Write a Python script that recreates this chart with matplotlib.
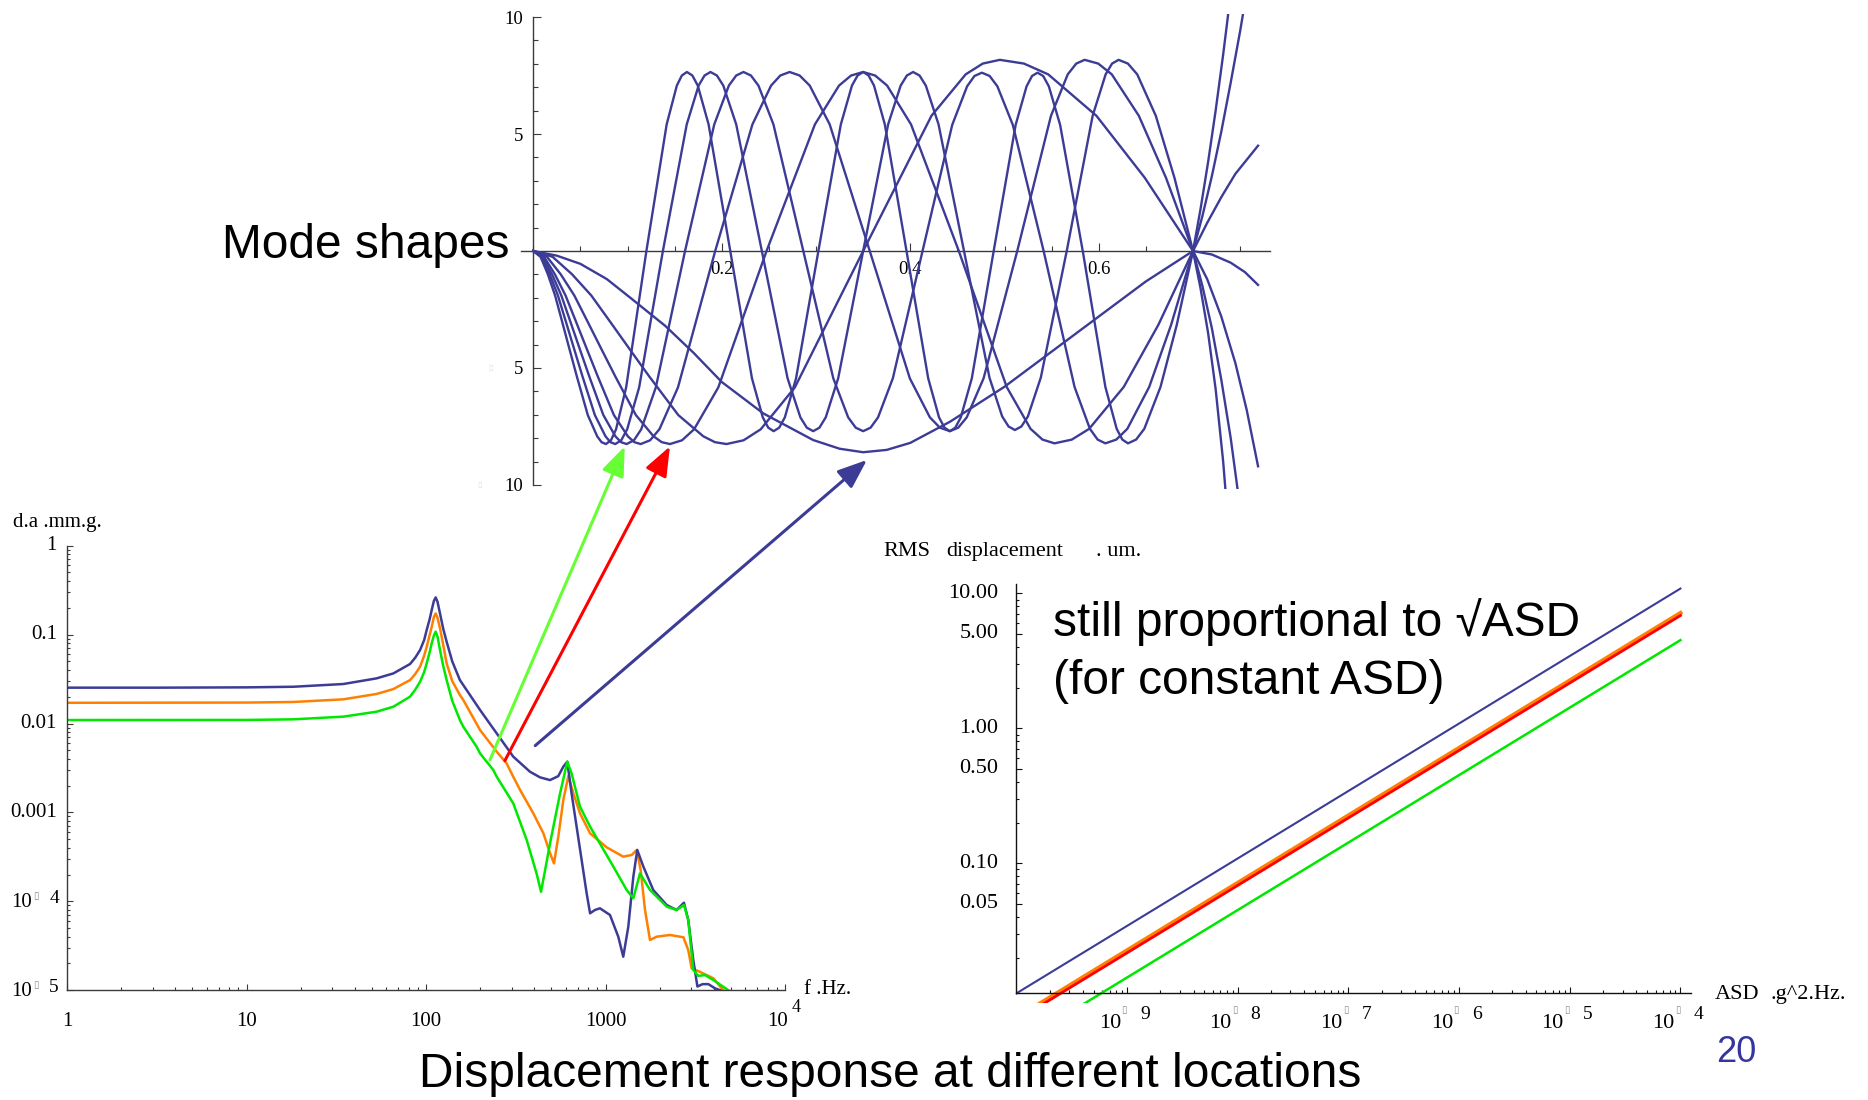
import numpy as np
import matplotlib.pyplot as plt
from matplotlib.patches import ConnectionPatch
from matplotlib.ticker import FixedLocator, NullFormatter, MultipleLocator

plt.rcParams['font.family'] = ['Liberation Serif', 'DejaVu Sans']

W, H = 1868, 1100
SANS = ['Liberation Sans', 'DejaVu Sans']
AXIS = '#3a3a3a'
BLUE = '#3c3c96'
ORANGE = '#ff8000'
GREEN = '#00e800'
RED = '#ff0000'
LIGHT_GREEN = '#66ff33'

# --- mode shapes: (position, displacement) ---
mode_a = [(0, 0), (.025, -.2), (.05, -.55), (.078, -1.2), (.103, -2.0), (.14, -3.2), (.17, -4.35),
          (.20, -5.6), (.244, -6.94), (.27, -7.5), (.297, -8.08), (.325, -8.45), (.35, -8.6),
          (.375, -8.5), (.40, -8.2), (.442, -7.3), (.50, -5.8), (.55, -4.3), (.60, -2.8),
          (.65, -1.3), (.70, 0), (.72, -.15), (.74, -.5), (.755, -.9), (.769, -1.45)]
mode_b = [(0, 0), (.0205, -.25), (.041, -.99), (.0615, -1.90), (.082, -3.05), (.1025, -4.21), (.123, -5.36),
          (.1538, -7.01), (.1804, -7.92), (.1927, -8.17),
          (.205, -8.25), (.2231, -8.09), (.2413, -7.62), (.2775, -5.83), (.350, 0), (.4225, 5.78), (.4588, 7.55), (.4769, 8.01),
          (.495, 8.17), (.5206, 8.01), (.5463, 7.55), (.5975, 5.78), (.6488, 3.13), (.700, 0),
          (.715, -1.2), (.73, -2.8), (.745, -4.8), (.757, -6.8), (.769, -9.2)]
mode_c = [(0, 0), (.0145, -.25), (.029, -.99), (.0435, -1.90), (.058, -3.05), (.0725, -4.21), (.087, -5.36),
          (.1088, -7.01), (.1276, -7.92), (.1363, -8.17),
          (.145, -8.25), (.1578, -8.09), (.1706, -7.62), (.1963, -5.83), (.2475, 0), (.2988, 5.41), (.3244, 7.07), (.3372, 7.50),
          (.350, 7.65), (.3627, 7.50), (.3754, 7.07), (.4008, 5.41), (.4515, 0), (.5023, -5.81), (.5276, -7.60), (.5403, -8.06),
          (.553, -8.22), (.5714, -8.06), (.5898, -7.60), (.6265, -5.81), (.6633, -3.15), (.700, 0),
          (.715, 1.2), (.73, 2.3), (.745, 3.3), (.757, 3.9), (.769, 4.5)]
mode_d = [(0, 0), (.0114, -.25), (.0228, -.99), (.0342, -1.90), (.0456, -3.05), (.057, -4.21), (.0684, -5.36),
          (.0855, -7.01), (.1003, -7.92), (.1072, -8.17),
          (.114, -8.25), (.1239, -8.09), (.1338, -7.62), (.1535, -5.83), (.193, 0), (.2325, 5.41), (.2523, 7.07), (.2621, 7.50),
          (.272, 7.65), (.2826, 7.50), (.2933, 7.07), (.3145, 5.41), (.357, 0), (.3995, -5.44), (.4208, -7.11), (.4314, -7.55),
          (.442, -7.7), (.4509, -7.55), (.4599, -7.11), (.4778, -5.44), (.5135, 0), (.5493, 5.78), (.5671, 7.55), (.5761, 8.01),
          (.585, 8.17), (.5994, 8.01), (.6138, 7.55), (.6425, 5.78), (.6713, 3.13), (.700, 0),
          (.71, -1.5), (.72, -3.3), (.73, -5.5), (.74, -8.0), (.748, -10.4)]
mode_e = [(0, 0), (.0099, -.25), (.0198, -.99), (.0297, -1.90), (.0396, -3.05), (.0495, -4.21), (.0594, -5.36),
          (.0743, -7.01), (.0871, -7.92), (.0931, -8.17),
          (.099, -8.25), (.1068, -8.09), (.1145, -7.62), (.130, -5.83), (.161, 0), (.192, 5.41), (.2075, 7.07), (.2153, 7.50),
          (.223, 7.65), (.2309, 7.50), (.2389, 7.07), (.2548, 5.41), (.2865, 0), (.3183, -5.44), (.3341, -7.11), (.3421, -7.55),
          (.350, -7.7), (.3579, -7.55), (.3658, -7.11), (.3815, -5.44), (.413, 0), (.4445, 5.39), (.4603, 7.04), (.4681, 7.48),
          (.476, 7.62), (.4842, 7.48), (.4924, 7.04), (.5088, 5.39), (.5415, 0), (.5743, -5.81), (.5906, -7.60), (.5988, -8.06),
          (.607, -8.22), (.6186, -8.06), (.6303, -7.60), (.6535, -5.81), (.6768, -3.15), (.700, 0),
          (.71, 1.5), (.72, 3.2), (.73, 5.1), (.74, 7.2), (.75, 9.4), (.76, 11.8)]
mode_f = [(0, 0), (.0087, -.25), (.0174, -.99), (.0261, -1.90), (.0348, -3.05), (.0435, -4.21), (.0522, -5.36),
          (.0653, -7.01), (.0766, -7.92), (.0818, -8.17),
          (.087, -8.25), (.0933, -8.09), (.0996, -7.62), (.1123, -5.83), (.1375, 0), (.1628, 5.41), (.1754, 7.07), (.1817, 7.50),
          (.188, 7.65), (.1948, 7.50), (.2016, 7.07), (.2153, 5.41), (.2425, 0), (.2698, -5.44), (.2834, -7.11), (.2902, -7.55),
          (.297, -7.7), (.3036, -7.55), (.3103, -7.11), (.3235, -5.44), (.350, 0), (.3765, 5.41), (.3898, 7.07), (.3964, 7.50),
          (.403, 7.65), (.4098, 7.50), (.4165, 7.07), (.430, 5.41), (.457, 0), (.484, -5.41), (.4975, -7.07), (.5043, -7.50),
          (.511, -7.65), (.5179, -7.50), (.5248, -7.07), (.5385, -5.41), (.566, 0), (.5935, 5.78), (.6073, 7.55), (.6141, 8.01),
          (.621, 8.17), (.6309, 8.01), (.6408, 7.55), (.6605, 5.78), (.6803, 3.13), (.700, 0),
          (.708, -1.6), (.716, -3.5), (.724, -5.9), (.732, -9.0), (.738, -12.0)]
mode_g = [(0, 0), (.0077, -.25), (.0154, -.99), (.0231, -1.90), (.0308, -3.05), (.0385, -4.21), (.0462, -5.36),
          (.0578, -7.01), (.0678, -7.92), (.0724, -8.17),
          (.077, -8.25), (.0824, -8.09), (.0878, -7.62), (.0985, -5.83), (.120, 0), (.1415, 5.41), (.1523, 7.07), (.1576, 7.50),
          (.163, 7.65), (.1688, 7.50), (.1745, 7.07), (.186, 5.41), (.209, 0), (.232, -5.44), (.2435, -7.11), (.2493, -7.55),
          (.255, -7.7), (.2609, -7.55), (.2669, -7.11), (.2788, -5.44), (.3025, 0), (.3263, 5.41), (.3381, 7.07), (.3441, 7.50),
          (.350, 7.65), (.3558, 7.50), (.3615, 7.07), (.373, 5.41), (.396, 0), (.419, -5.44), (.4305, -7.11), (.4363, -7.55),
          (.442, -7.7), (.4478, -7.55), (.4536, -7.11), (.4653, -5.44), (.4885, 0), (.5118, 5.39), (.5234, 7.04), (.5292, 7.48),
          (.535, 7.62), (.541, 7.48), (.547, 7.04), (.559, 5.39), (.583, 0), (.607, -5.81), (.619, -7.60), (.625, -8.06),
          (.631, -8.22), (.6396, -8.06), (.6483, -7.60), (.6655, -5.81), (.6828, -3.15), (.700, 0),
          (.708, 1.8), (.716, 3.8), (.724, 6.0), (.732, 8.4), (.740, 11.0)]
modes = [mode_a, mode_b, mode_c, mode_d, mode_e, mode_f, mode_g]

# --- displacement response per unit acceleration (Hz, mm/g) ---
freq_blue = [1, 3.16, 10, 18.2, 34.6, 53.1, 65.8, 81.5, 87.1, 92.7, 97.7, 100.9, 104.7, 107.6, 110.7, 113.2,
             115.9, 119.7, 124.5, 130.3, 140, 154.5, 200, 247.7, 306.2, 379.3, 431.5, 490.9, 545.8, 582.1,
             612.4, 647.1, 690.2, 736.2, 785.2, 820.4, 873.0, 931.1, 1059, 1178, 1256, 1340, 1429, 1503,
             1626, 1845, 2193, 2489, 2735, 2891, 3083, 3251, 3475, 3741, 4074, 4345]
disp_blue = [0.0253, 0.0253, 0.0255, 0.0259, 0.0278, 0.0322, 0.0366, 0.0467, 0.055, 0.0671, 0.087, 0.1127,
             0.148, 0.189, 0.240, 0.262, 0.234, 0.173, 0.118, 0.0832, 0.050, 0.0308, 0.0142, 0.00774,
             0.00424, 0.00287, 0.00248, 0.00231, 0.00256, 0.00327, 0.00372, 0.00164, 0.000692, 0.000292,
             0.000123, 7.33e-5, 7.98e-5, 8.34e-5, 7.02e-5, 4.0e-5, 2.38e-5, 5.19e-5, 1.89e-4, 3.78e-4,
             2.45e-4, 1.34e-4, 9.08e-5, 7.98e-5, 9.64e-5, 6.17e-5, 2.19e-5, 1.10e-5, 1.17e-5, 1.17e-5,
             1.05e-5, 1.0e-5]
freq_orange = [1, 10, 18.2, 34.6, 53.1, 65.8, 81.5, 87.1, 92.7, 97.7, 100.9, 104.7, 107.6, 110.7, 113.2,
               115.9, 119.7, 124.5, 130.3, 140, 154.5, 161.4, 200, 247.7, 281.2, 306.2, 334.2, 396.3,
               450.8, 490.9, 516.4, 545.8, 582.1, 620.9, 662.2, 721.1, 820.4, 1014, 1256, 1400, 1493,
               1570, 1660, 1770, 1928, 2286, 2716, 2891, 3020, 3357, 3990, 4529]
disp_orange = [0.0171, 0.0172, 0.01746, 0.0187, 0.0215, 0.0244, 0.0308, 0.036, 0.0436, 0.058, 0.0731,
               0.098, 0.1227, 0.158, 0.173, 0.155, 0.1175, 0.078, 0.0475, 0.030, 0.0209, 0.01837,
               0.00845, 0.00482, 0.00356, 0.00252, 0.00179, 0.000975, 0.000582, 0.000347, 0.000267,
               0.000533, 0.001377, 0.002564, 0.00164, 0.000975, 0.000582, 0.000405, 0.000318, 0.000332,
               0.000378, 0.000225, 7.98e-5, 3.67e-5, 4.0e-5, 4.18e-5, 3.94e-5, 2.83e-5, 1.76e-5,
               1.61e-5, 1.36e-5, 1.0e-5]
freq_green = [1, 10, 18.2, 34.6, 53.1, 65.8, 81.5, 87.1, 92.7, 97.7, 100.9, 104.7, 107.6, 110.7, 113.2,
              115.9, 119.7, 124.5, 130.3, 140, 154.5, 161.4, 191.4, 200, 237.1, 247.7, 306.2, 363.9,
              413.0, 437.5, 464.5, 490.9, 558.5, 612.4, 647.1, 721.1, 820.4, 1107, 1312, 1429, 1556,
              1770, 2193, 2489, 2735, 2891, 3083, 3289, 3581, 3990, 4831]
disp_green = [0.01094, 0.01097, 0.01114, 0.01194, 0.01358, 0.01545, 0.02004, 0.024, 0.02951, 0.038,
              0.0475, 0.063, 0.0798, 0.098, 0.1079, 0.095, 0.0671, 0.045, 0.0308, 0.018, 0.01094,
              0.0092, 0.00548, 0.00461, 0.0030, 0.00252, 0.001265, 0.000489, 0.000206, 0.000128,
              0.000245, 0.000449, 0.00164, 0.00372, 0.00275, 0.001159, 0.000692, 0.000245, 0.000134,
              0.000108, 0.000206, 0.000134, 8.71e-5, 7.98e-5, 9.08e-5, 6.17e-5, 1.69e-5, 1.45e-5,
              1.48e-5, 1.30e-5, 1.0e-5]

# --- RMS displacement vs constant ASD (g^2/Hz, um) ---
asd = [1e-10, 1e-4]
rms_blue = [0.01085, 10.85]
rms_orange = [0.00715, 7.15]
rms_red = [0.00685, 6.85]
rms_green = [0.0045, 4.5]
rms_axis_y = 0.0109


def px_box(left, top, right, bottom):
    return [left / W, 1 - bottom / H, (right - left) / W, (bottom - top) / H]


def pt(px):
    return px * 0.72


def put(ax, text, xy, coords, dx, dy, size, ha='center', **kw):
    ax.annotate(text, xy=xy, xycoords=coords, xytext=(pt(dx), pt(dy)),
                textcoords='offset points', ha=ha, va='center', fontsize=size,
                annotation_clip=False, **kw)


def box_glyph(ax, xy, coords, dx, dy, color='#8a8a8a', size=7):
    put(ax, '\u25af', xy, coords, dx, dy, size, color=color, family='DejaVu Sans')


fig = plt.figure(figsize=(W / 100, H / 100), dpi=100)

# ---------------- mode shapes ----------------
ax_m = fig.add_axes(px_box(521.05, 13.5, 1270.3, 488.5))
ax_m.set_xlim(-0.013, 0.782)
ax_m.set_ylim(-10.15, 10.15)
for m in modes:
    xs, ys = zip(*m)
    ax_m.plot(xs, ys, color=BLUE, lw=1.7, zorder=3, solid_joinstyle='round')
ax_m.spines[['top', 'right']].set_visible(False)
ax_m.spines['left'].set_position(('data', 0))
ax_m.spines['bottom'].set_position(('data', 0))
ax_m.spines['left'].set_bounds(-10, 10)
for s in ('left', 'bottom'):
    ax_m.spines[s].set_color(AXIS)
    ax_m.spines[s].set_linewidth(1.0)
ax_m.set_xticks([0.2, 0.4, 0.6])
ax_m.set_xticklabels(['0.2', '0.4', '0.6'])
ax_m.xaxis.set_minor_locator(MultipleLocator(0.05))
ax_m.set_yticks([-10, -5, 5, 10])
ax_m.set_yticklabels(['10', '5', '5', '10'])
ax_m.yaxis.set_minor_locator(MultipleLocator(1))
ax_m.tick_params(which='both', direction='in', color=AXIS, width=0.8, labelsize=13.5)
ax_m.tick_params(which='major', length=6)
ax_m.tick_params(which='minor', length=3.5)
ax_m.tick_params(axis='x', pad=7)
ax_m.tick_params(axis='y', pad=7)
ax_m.patch.set_alpha(0)
box_glyph(ax_m, (0, -5), ('axes fraction', 'data'), -30, 0, color='#dedede', size=6)
box_glyph(ax_m, (0, -10), ('axes fraction', 'data'), -41, 0, color='#dedede', size=6)

fig.text(222 / W, 1 - 258 / H, 'Mode shapes', fontsize=34.5, family=SANS, va='baseline')

# ---------------- frequency response ----------------
ax_f = fig.add_axes(px_box(67, 545.7, 785, 990.2))
ax_f.set_xscale('log')
ax_f.set_yscale('log')
ax_f.plot(freq_orange, disp_orange, color=ORANGE, lw=1.8, solid_joinstyle='round')
ax_f.plot(freq_blue, disp_blue, color=BLUE, lw=1.8, solid_joinstyle='round')
ax_f.plot(freq_green, disp_green, color=GREEN, lw=1.8, solid_joinstyle='round')
ax_f.set_xlim(1, 1e4)
ax_f.set_ylim(1e-5, 1)
ax_f.spines[['top', 'right']].set_visible(False)
for s in ('left', 'bottom'):
    ax_f.spines[s].set_color(AXIS)
    ax_f.spines[s].set_linewidth(1.0)
decades = [1, 10, 100, 1000, 1e4]
ax_f.xaxis.set_major_locator(FixedLocator(decades))
ax_f.xaxis.set_minor_locator(FixedLocator([k * d for d in decades[:-1] for k in range(2, 10)]))
ydec = [1e-5, 1e-4, 1e-3, 1e-2, 1e-1, 1]
ax_f.yaxis.set_major_locator(FixedLocator(ydec))
ax_f.yaxis.set_minor_locator(FixedLocator([k * d for d in ydec[:-1] for k in range(2, 10)]))
for axis in (ax_f.xaxis, ax_f.yaxis):
    axis.set_major_formatter(NullFormatter())
    axis.set_minor_formatter(NullFormatter())
ax_f.tick_params(which='both', direction='in', color=AXIS, width=0.8)
ax_f.tick_params(which='major', length=4)
ax_f.tick_params(which='minor', length=2.2)
ax_f.patch.set_alpha(0)

for v, s in zip([1, 10, 100, 1000], ['1', '10', '100', '1000']):
    put(ax_f, s, (v, 0), ('data', 'axes fraction'), 0, -31, 15)
put(ax_f, '10', (1e4, 0), ('data', 'axes fraction'), -7, -31, 15)
put(ax_f, '4', (1e4, 0), ('data', 'axes fraction'), 11, -17, 13)
for v, s in zip([1, 0.1, 0.01, 0.001], ['1', '0.1', '0.01', '0.001']):
    put(ax_f, s, (0, v), ('axes fraction', 'data'), -10, 0, 15, ha='right')
for v, e in [(1e-4, '4'), (1e-5, '5')]:
    put(ax_f, '10', (0, v), ('axes fraction', 'data'), -35, -1, 15, ha='right')
    box_glyph(ax_f, (0, v), ('axes fraction', 'data'), -31, 5)
    put(ax_f, e, (0, v), ('axes fraction', 'data'), -13, 3, 14)

fig.text(13 / W, 1 - 527 / H, 'd.a .mm.g.', fontsize=15, va='baseline')
fig.text(804 / W, 1 - 989 / H, 'f .Hz.', fontsize=15, va='center')

# ---------------- RMS displacement ----------------
ax_r = fig.add_axes(px_box(1016.2, 583.9, 1691.5, 1003))
ax_r.set_xscale('log')
ax_r.set_yscale('log')
ax_r.plot(asd, rms_blue, color=BLUE, lw=1.5)
ax_r.plot(asd, rms_orange, color=ORANGE, lw=3.0)
ax_r.plot(asd, rms_red, color=RED, lw=2.0)
ax_r.plot(asd, rms_green, color=GREEN, lw=1.8)
ax_r.set_xlim(1e-10, 10 ** -3.9)
ax_r.set_ylim(10 ** -2.035, 10 ** 1.07)
ax_r.spines[['top', 'right']].set_visible(False)
ax_r.spines['bottom'].set_position(('data', rms_axis_y))
ax_r.spines['left'].set_bounds(rms_axis_y, 10 ** 1.07)
for s in ('left', 'bottom'):
    ax_r.spines[s].set_color('#111111')
    ax_r.spines[s].set_linewidth(1.0)
xdec = [1e-10, 1e-9, 1e-8, 1e-7, 1e-6, 1e-5, 1e-4]
ax_r.xaxis.set_major_locator(FixedLocator(xdec[1:]))
ax_r.xaxis.set_minor_locator(FixedLocator([k * d for d in xdec[:-1] for k in range(2, 10)]))
yticks_r = [0.05, 0.1, 0.5, 1, 5, 10]
ax_r.yaxis.set_major_locator(FixedLocator(yticks_r))
ax_r.yaxis.set_minor_locator(FixedLocator([k * d for d in [0.01, 0.1, 1] for k in range(2, 10)]))
for axis in (ax_r.xaxis, ax_r.yaxis):
    axis.set_major_formatter(NullFormatter())
    axis.set_minor_formatter(NullFormatter())
ax_r.tick_params(which='both', direction='in', color='#111111', width=0.8)
ax_r.tick_params(which='major', length=4)
ax_r.tick_params(which='minor', length=2.2)
ax_r.patch.set_alpha(0)

for v, s in zip(yticks_r, ['0.05', '0.10', '0.50', '1.00', '5.00', '10.00']):
    put(ax_r, s, (0, v), ('axes fraction', 'data'), -18, 0, 16, ha='right')
for v, e in zip(xdec[1:], ['9', '8', '7', '6', '5', '4']):
    put(ax_r, '10', (v, rms_axis_y), 'data', -17, -30, 16)
    box_glyph(ax_r, (v, rms_axis_y), 'data', -3, -17)
    put(ax_r, e, (v, rms_axis_y), 'data', 18, -21, 14)

fig.text(883 / W, 1 - 556 / H, 'RMS', fontsize=16, va='baseline')
fig.text(946 / W, 1 - 556 / H, 'displacement', fontsize=16, va='baseline')
fig.text(1096 / W, 1 - 556 / H, '. um.', fontsize=16, va='baseline')
fig.text(1715 / W, 1 - 999 / H, 'ASD', fontsize=16, va='baseline')
fig.text(1771 / W, 1 - 999 / H, '.g^2.Hz.', fontsize=16, va='baseline')

fig.text(1053 / W, 1 - 636 / H, 'still proportional to \u221aASD', fontsize=34.5, family=SANS, va='baseline')
fig.text(1053 / W, 1 - 694 / H, '(for constant ASD)', fontsize=34.5, family=SANS, va='baseline')

# arrows from response curves to the matching mode shapes
for tail, head, col in [((227, 0.00389), (0.097, -8.35), LIGHT_GREEN),
                        ((275, 0.00382), (0.145, -8.35), RED),
                        ((406, 0.00564), (0.354, -8.93), BLUE)]:
    con = ConnectionPatch(xyA=tail, coordsA=ax_f.transData, xyB=head, coordsB=ax_m.transData,
                          arrowstyle='-|>,head_length=0.9,head_width=0.35', mutation_scale=20,
                          color=col, lw=2.2, shrinkA=0, shrinkB=0)
    fig.add_artist(con)

fig.text(419 / W, 1 - 1087 / H, 'Displacement response at different locations',
         fontsize=34.5, family=SANS, va='baseline')
fig.text(1736 / W, 1 - 1053 / H, '20', fontsize=26, family=SANS, color='#3535a0',
         ha='center', va='center')

fig.savefig('out.png', dpi=100)
